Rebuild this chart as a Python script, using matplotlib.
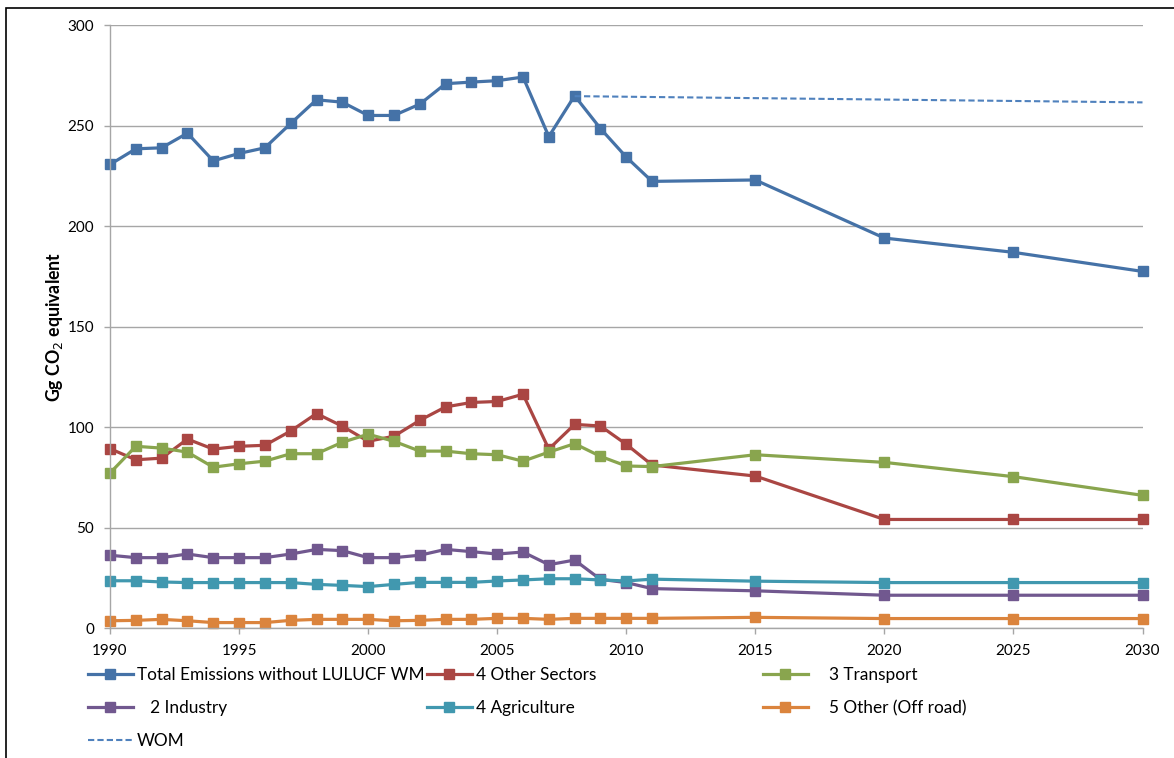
import matplotlib.pyplot as plt
from matplotlib.patches import Rectangle

plt.rcParams['font.family'] = ['Lato', 'DejaVu Sans']

# Years: annual history, then 5-year projections
years = list(range(1990, 2012)) + [2015, 2020, 2025, 2030]

# Emissions in Gg CO2 equivalent
total = [230.6, 238.4, 238.9, 246.2, 232.4, 236.1, 238.9, 251.0, 262.8, 261.6, 255.0,
         255.0, 260.6, 270.8, 271.6, 272.3, 274.1, 244.5, 264.8, 248.5, 234.3, 222.2,
         222.9, 194.0, 186.9, 177.4]
other_sectors = [89.2, 83.7, 84.5, 94.0, 89.0, 90.4, 90.9, 98.0, 106.7, 100.4, 92.9,
                 95.4, 103.3, 110.0, 112.2, 112.7, 116.3, 89.0, 101.3, 100.5, 91.4, 81.1,
                 75.6, 54.0, 54.0, 54.0]
transport = [77.1, 90.4, 89.5, 87.5, 80.0, 81.7, 83.0, 86.7, 86.7, 92.4, 96.4,
             92.9, 88.0, 88.0, 86.7, 86.2, 83.0, 87.5, 91.7, 85.4, 80.6, 80.3,
             86.2, 82.4, 75.3, 66.0]
industry = [36.2, 35.0, 35.0, 36.8, 35.0, 35.0, 35.0, 36.8, 39.1, 38.5, 35.0,
            35.0, 36.2, 39.1, 38.0, 36.8, 37.8, 31.5, 33.8, 24.2, 22.6, 19.6,
            18.5, 16.3, 16.3, 16.3]
agriculture = [23.5, 23.5, 22.9, 22.6, 22.6, 22.6, 22.6, 22.6, 21.7, 21.2, 20.6,
               21.7, 22.7, 22.7, 22.7, 23.4, 23.9, 24.5, 24.5, 23.9, 23.4, 24.3,
               23.3, 22.6, 22.6, 22.6]
off_road = [3.6, 3.8, 4.3, 3.6, 2.7, 2.7, 2.7, 3.8, 4.3, 4.3, 4.3,
            3.6, 3.8, 4.3, 4.3, 4.8, 4.8, 4.3, 4.8, 4.8, 4.8, 4.8,
            5.3, 4.7, 4.7, 4.7]

# WOM scenario (dashed)
wom_years = [2008, 2030]
wom = [264.6, 261.5]

series = [
    ("Total Emissions without LULUCF WM", total, "#4572A7"),
    ("4 Other Sectors", other_sectors, "#AA4643"),
    ("3 Transport", transport, "#89A54E"),
    ("   2 Industry", industry, "#71588F"),
    ("4 Agriculture", agriculture, "#4198AF"),
    ("5 Other (Off road)", off_road, "#DB843D"),
]

fig = plt.figure(figsize=(11.74, 7.58), dpi=100)
ax = fig.add_axes([110 / 1174, 1 - 628 / 758, 1032.5 / 1174, 603 / 758])

handles = {}
for name, vals, col in series:
    h, = ax.plot(years, vals, color=col, lw=2.3, marker='s', ms=7.5,
                 mec=col, label=name, clip_on=False)
    handles[name] = h
h_wom, = ax.plot(wom_years, wom, color="#4F81BD", lw=1.5, ls=(0, (3, 1.5)), label="WOM")

ax.set_xlim(1990, 2030)
ax.set_ylim(0, 300)
ax.set_xticks(range(1990, 2031, 5))
ax.set_yticks(range(0, 301, 50))
ax.grid(axis='y', color='#a6a6a6', lw=1.0)
ax.set_axisbelow(True)
for s in ['top', 'right']:
    ax.spines[s].set_visible(False)
for s in ['left', 'bottom']:
    ax.spines[s].set_color('#a6a6a6')
    ax.spines[s].set_linewidth(1.0)
ax.tick_params(axis='both', colors='#a6a6a6', labelcolor='black', labelsize=11,
               length=4.5, width=1.0, direction='out')
ax.tick_params(axis='y', pad=7)
ax.tick_params(axis='x', pad=7)
ax.set_ylabel("Gg CO$_2$ equivalent", fontsize=12.8, fontweight='bold', labelpad=2)

# legend in three columns, like the spreadsheet layout
cols = [
    (88, [handles["Total Emissions without LULUCF WM"], handles["   2 Industry"], h_wom], 0.25),
    (427, [handles["4 Other Sectors"], handles["4 Agriculture"]], 0.25),
    (763, [handles["3 Transport"], handles["5 Other (Off road)"]], 1.25),
]
for x0, hs, pad in cols:
    fig.legend(handles=hs, labels=[h.get_label() for h in hs],
               loc='upper left', bbox_to_anchor=(x0 / 1174, 1 - 667 / 758),
               frameon=False, fontsize=12.4, handlelength=2.6, handletextpad=pad,
               borderpad=0, borderaxespad=0, labelspacing=0.98)

# outer chart frame (cropped on right and bottom)
fig.patches.append(Rectangle((6 / 1174, -0.1), 1.2, 1 - 8 / 758 + 0.1,
                             transform=fig.transFigure, fill=False,
                             edgecolor='black', lw=1.2))

fig.savefig("out.png", dpi=100)
